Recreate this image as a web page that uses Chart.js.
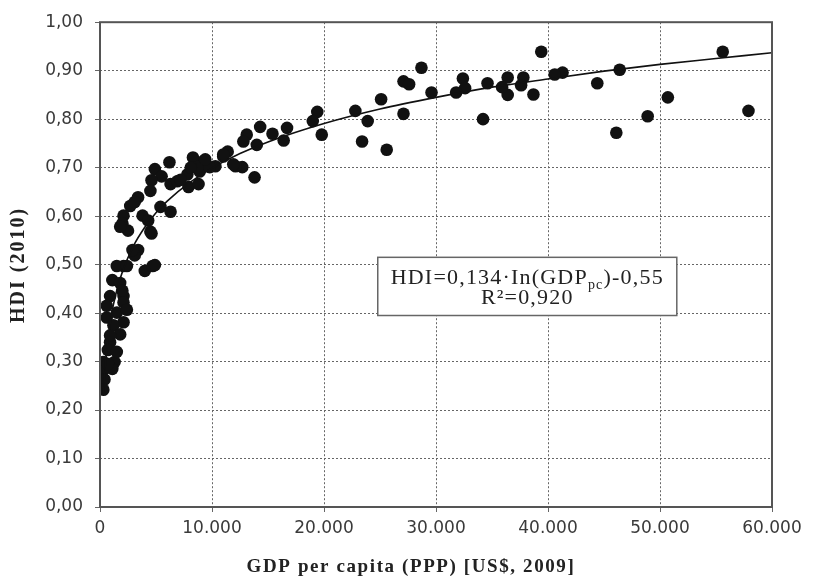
<!DOCTYPE html>
<html>
<head>
<meta charset="utf-8">
<script src="https://cdn.jsdelivr.net/npm/chart.js@4/dist/chart.umd.min.js"></script>
<style>
  html, body { margin: 0; padding: 0; background: #fff; }
  #wrap { width: 819px; height: 583px; }
</style>
</head>
<body>
<div id="wrap"><canvas id="hdiChart" width="819" height="583"></canvas></div>
<script>
// GDP per capita (PPP, US$ 2009) and HDI 2010
const gdp = [
    55600, 57900, 50700, 48900, 46100, 46400, 44400, 41300, 40600, 39400,
    38700, 37800, 37600, 36400, 36400, 35900, 34600, 34200, 32400, 32600,
    31800, 29600, 28700, 27100, 27600, 27100, 25100, 25600, 23400, 23900,
    22800, 19400, 19000, 19800, 16700, 16400, 15400, 14300, 14000, 13100,
    12800, 13800, 12700, 12100, 11400, 11000, 10300, 9200, 8900, 6200,
    4900, 5500, 4600, 4500, 3400, 2700, 3100, 2100, 2000, 2500,
    3800, 4300, 5400, 6300, 4500, 3400, 3100, 2100, 4000, 4700,
    6300, 6900, 7800, 8300, 8700, 7900, 8800, 9800, 9400, 11000,
    11900, 1800, 4600, 2900, 4900, 1500, 2400, 1100, 1800, 900,
    2100, 2000, 600, 2100, 1500, 600, 2100, 2400, 1200, 900,
    700, 300, 1300, 1100, 200, 400, 300, 1500, 1800, 700,
    900, 7200, 8100
];
const hdi = [
    0.939, 0.817, 0.845, 0.806, 0.772, 0.902, 0.874, 0.896, 0.892, 0.939,
    0.851, 0.886, 0.870, 0.886, 0.850, 0.866, 0.874, 0.800, 0.884, 0.864,
    0.855, 0.855, 0.906, 0.878, 0.872, 0.811, 0.841, 0.737, 0.754, 0.796,
    0.817, 0.815, 0.796, 0.768, 0.782, 0.756, 0.770, 0.784, 0.747, 0.768,
    0.754, 0.680, 0.701, 0.703, 0.733, 0.723, 0.703, 0.713, 0.692, 0.711,
    0.697, 0.682, 0.674, 0.652, 0.639, 0.621, 0.629, 0.601, 0.585, 0.570,
    0.601, 0.591, 0.619, 0.609, 0.568, 0.530, 0.519, 0.497, 0.487, 0.497,
    0.666, 0.672, 0.686, 0.721, 0.701, 0.660, 0.666, 0.701, 0.717, 0.727,
    0.707, 0.578, 0.564, 0.530, 0.499, 0.497, 0.497, 0.468, 0.462, 0.435,
    0.435, 0.446, 0.415, 0.422, 0.401, 0.391, 0.381, 0.407, 0.375, 0.340,
    0.324, 0.299, 0.299, 0.285, 0.279, 0.263, 0.242, 0.320, 0.356, 0.295,
    0.354, 0.675, 0.700
];

// logarithmic trend line
const trendGdp = [300, 500, 1000, 1500, 2000, 3000, 4000, 5000, 6000, 8000,
    10000, 12500, 15000, 20000, 25000, 30000, 35000, 40000, 45000, 50000, 55000, 60000];
const trendHdi = [0.233, 0.30, 0.393, 0.447, 0.485, 0.539, 0.577, 0.607, 0.631, 0.669,
    0.699, 0.729, 0.753, 0.791, 0.821, 0.845, 0.866, 0.883, 0.899, 0.913, 0.925, 0.937];

const equationLines = ['HDI=0,134·In(GDP', 'pc', ')-0,55', 'R²=0,920'];
const xTitle = 'GDP per capita (PPP) [US$, 2009]';
const yTitle = 'HDI (2010)';

const points = gdp.map((g, i) => ({ x: g, y: hdi[i] }));
const trend = trendGdp.map((g, i) => ({ x: g, y: trendHdi[i] }));

function fmtThousands(v) {
    return String(Math.round(v)).replace(/\B(?=(\d{3})+(?!\d))/g, '.');
}

const extras = {
    id: 'extras',
    afterDatasetsDraw(chart) {
        const { ctx, chartArea: a, scales: { x, y } } = chart;
        ctx.save();
        // plot frame
        ctx.strokeStyle = '#555';
        ctx.lineWidth = 2;
        ctx.strokeRect(a.left, a.top, a.right - a.left, a.bottom - a.top);

        // equation box
        const l = x.getPixelForValue(24800), r = x.getPixelForValue(51500);
        const t = y.getPixelForValue(0.515), b = y.getPixelForValue(0.395);
        ctx.fillStyle = '#fff';
        ctx.fillRect(l, t, r - l, b - t);
        ctx.strokeStyle = '#666';
        ctx.lineWidth = 1.5;
        ctx.strokeRect(l, t, r - l, b - t);

        ctx.fillStyle = '#222';
        ctx.textBaseline = 'alphabetic';
        ctx.letterSpacing = '1.2px';
        const big = '22px "Liberation Serif"', small = '14px "Liberation Serif"';
        ctx.font = big;
        const w1 = ctx.measureText(equationLines[0]).width;
        const w3 = ctx.measureText(equationLines[2]).width;
        ctx.font = small;
        const w2 = ctx.measureText(equationLines[1]).width;
        const cx = (l + r) / 2;
        let sx = cx - (w1 + w2 + w3) / 2;
        const base1 = t + 27;
        ctx.font = big;
        ctx.textAlign = 'left';
        ctx.fillText(equationLines[0], sx, base1);
        ctx.font = small;
        ctx.fillText(equationLines[1], sx + w1, base1 + 5);
        ctx.font = big;
        ctx.fillText(equationLines[2], sx + w1 + w2, base1);
        ctx.textAlign = 'center';
        ctx.fillText(equationLines[3], cx, base1 + 20);
        ctx.restore();
    },
    afterDraw(chart) {
        const { ctx } = chart;
        ctx.save();
        ctx.fillStyle = '#222';
        ctx.font = 'bold 19px "Liberation Serif"';
        ctx.letterSpacing = '1.6px';
        ctx.textAlign = 'center';
        ctx.textBaseline = 'middle';
        ctx.fillText(xTitle, 411, 567);
        ctx.font = 'bold 20px "Liberation Serif"';
        ctx.letterSpacing = '2px';
        ctx.translate(19, 265);
        ctx.rotate(-Math.PI / 2);
        ctx.fillText(yTitle, 0, 0);
        ctx.restore();
    }
};

const tickFont = { family: '"DejaVu Sans"', size: 17 };

new Chart(document.getElementById('hdiChart'), {
    type: 'scatter',
    data: {
        datasets: [{
            type: 'line',
            data: trend,
            borderColor: '#111',
            borderWidth: 1.6,
            pointRadius: 0,
            fill: false,
            cubicInterpolationMode: 'monotone',
            order: 1
        }, {
            data: points,
            backgroundColor: '#111',
            borderColor: '#111',
            borderWidth: 0,
            pointRadius: 6.3,
            pointHoverRadius: 6.3,
            order: 2
        }]
    },
    options: {
        responsive: false,
        animation: false,
        layout: { padding: { top: 14, right: 47, left: 0, bottom: 0 } },
        plugins: {
            legend: { display: false },
            tooltip: { enabled: false }
        },
        scales: {
            x: {
                type: 'linear',
                min: 0,
                max: 60000,
                afterFit(s) { s.height = 76; },
                ticks: {
                    stepSize: 10000,
                    color: '#3a3a3a',
                    font: tickFont,
                    padding: 6,
                    callback: v => fmtThousands(v)
                },
                grid: { color: '#666', lineWidth: 1, tickLength: 5 },
                border: { display: false, dash: [2, 2] }
            },
            y: {
                min: 0,
                max: 1,
                afterFit(s) { s.width = 100; },
                ticks: {
                    stepSize: 0.1,
                    color: '#3a3a3a',
                    font: tickFont,
                    padding: 12,
                    callback: v => v.toFixed(2).replace('.', ',')
                },
                grid: { color: '#666', lineWidth: 1, tickLength: 5 },
                border: { display: false, dash: [2, 2] }
            }
        }
    },
    plugins: [extras]
});
</script>
</body>
</html>
